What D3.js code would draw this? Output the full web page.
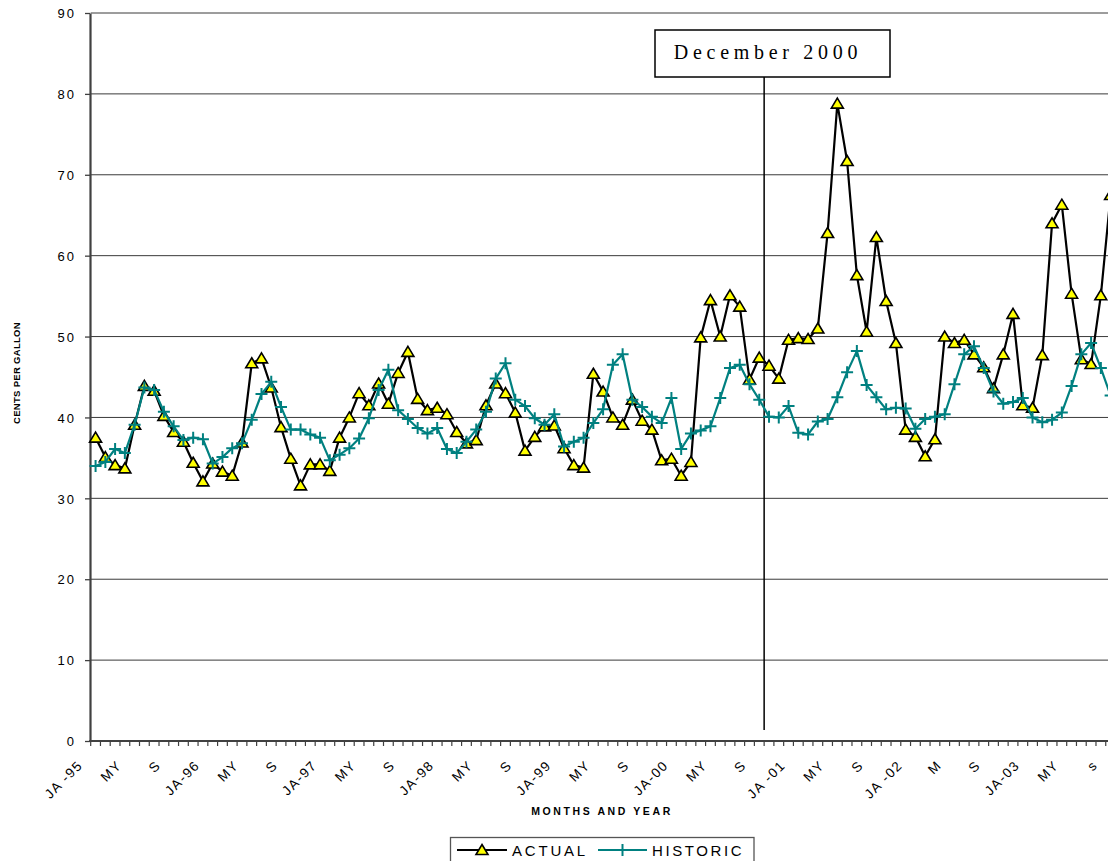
<!DOCTYPE html>
<html>
<head>
<meta charset="utf-8">
<script src="https://cdn.jsdelivr.net/npm/d3@7"></script>
<style>
  html, body { margin: 0; padding: 0; background: #fff; }
  svg { display: block; }
  text { font-family: "Liberation Sans", Arial, sans-serif; fill: #000; }
</style>
</head>
<body>
<svg id="chart" width="1108" height="861"></svg>
<script>
// Monthly categories, January 1995 through December 2003
const years = [1995, 1996, 1997, 1998, 1999, 2000, 2001, 2002, 2003];
const monthNames = ["JAN","FEB","MAR","APR","MAY","JUN","JUL","AUG","SEP","OCT","NOV","DEC"];
const months = years.flatMap(y => monthNames.map(m => m + "-" + y));

// Axis labels shown every fourth month (Jan, May, Sep)
const tickLabels = ["JA -95","MY","S","JA-96","MY","S","JA-97","MY","S",
  "JA-98","MY","S","JA-99","MY","S","JA-00","MY","S",
  "JA -01","MY","S","JA -02","M","S","JA-03","MY","s"];

// Actual price, cents per gallon (Jan 1995 - Sep 2003)
const actual = [
  37.5, 35.1, 34.1, 33.7, 39.1, 43.9, 43.3, 40.2, 38.2, 37.0, 34.4, 32.1,
  34.3, 33.3, 32.8, 36.9, 46.7, 47.3, 43.7, 38.8, 34.9, 31.6, 34.2, 34.2,
  33.4, 37.5, 40.0, 43.0, 41.5, 44.2, 41.7, 45.5, 48.1, 42.3, 40.9, 41.2,
  40.4, 38.2, 36.8, 37.2, 41.5, 44.2, 43.0, 40.6, 35.9, 37.6, 38.9, 39.0,
  36.2, 34.1, 33.8, 45.4, 43.2, 40.0, 39.1, 42.2, 39.6, 38.5, 34.7, 34.9,
  32.8, 34.5, 49.9, 54.5, 50.0, 55.1, 53.7, 44.7, 47.4, 46.4, 44.8, 49.6,
  49.8, 49.7, 51.0, 62.8, 78.8, 71.7, 57.6, 50.6, 62.3, 54.4, 49.2, 38.5,
  37.6, 35.2, 37.3, 50.0, 49.2, 49.6, 47.8, 46.2, 43.6, 47.8, 52.8, 41.5,
  41.2, 47.7, 64.0, 66.3, 55.3, 47.2, 46.6, 55.1, 67.5
];

// Historic price, cents per gallon (Jan 1995 - Sep 2003)
const historic = [
  34.0, 34.5, 36.1, 35.6, 39.1, 43.7, 43.4, 40.7, 38.9, 37.2, 37.5, 37.3,
  34.3, 35.1, 36.2, 36.8, 39.7, 42.9, 44.4, 41.3, 38.5, 38.5, 37.9, 37.5,
  34.7, 35.4, 36.2, 37.4, 39.9, 43.4, 45.9, 40.9, 39.8, 38.7, 38.0, 38.7,
  36.1, 35.6, 37.0, 38.5, 40.7, 44.8, 46.7, 42.2, 41.4, 39.9, 39.1, 40.4,
  36.4, 37.0, 37.5, 39.3, 41.0, 46.5, 47.8, 42.2, 41.3, 40.1, 39.3, 42.4,
  36.1, 38.0, 38.4, 38.9, 42.4, 46.1, 46.5, 44.1, 42.2, 40.1, 40.0, 41.4,
  38.1, 37.9, 39.5, 39.8, 42.5, 45.6, 48.2, 44.0, 42.5, 41.0, 41.2, 41.1,
  38.6, 39.8, 40.1, 40.4, 44.1, 47.8, 48.8, 46.1, 43.2, 41.7, 41.9, 42.4,
  40.0, 39.4, 39.7, 40.6, 43.9, 47.8, 49.2, 46.1, 42.7
];

const yTicks = [0, 10, 20, 30, 40, 50, 60, 70, 80, 90];
const markerText = "December 2000";
const markerMonth = "OCT-2000"; // the annotation line sits on this month's left boundary

const svg = d3.select("#chart");
const W = 1108, H = 861;
const plot = { left: 90.7, top: 13, bottom: 741 };
const step = 9.76;

const x = d3.scaleBand()
  .domain(months)
  .range([plot.left, plot.left + months.length * step])
  .paddingInner(0).paddingOuter(0);
const cx = i => x(months[i]) + x.bandwidth() / 2;

const y = d3.scaleLinear().domain([0, 90]).range([plot.bottom, plot.top]);

svg.append("rect").attr("width", W).attr("height", H).attr("fill", "#fff");

// Horizontal gridlines
svg.append("g").selectAll("line")
  .data(yTicks.filter(v => v > 0))
  .join("line")
  .attr("x1", plot.left).attr("x2", W + 10)
  .attr("y1", d => y(d)).attr("y2", d => y(d))
  .attr("stroke", "#3a3a3a").attr("stroke-width", 1);

// Y axis
const yAxis = svg.append("g")
  .attr("transform", `translate(${plot.left - 0.7},0)`)
  .call(d3.axisLeft(y).tickValues(yTicks).tickSize(5).tickSizeOuter(0).tickFormat(d3.format("d")));
yAxis.select(".domain").attr("stroke", "#404040").attr("stroke-width", 2.2);
yAxis.selectAll(".tick line").attr("stroke", "#404040").attr("stroke-width", 1.3);
yAxis.selectAll(".tick text")
  .attr("x", -14).attr("dy", "0.36em")
  .style("font-size", "13px").style("letter-spacing", "2px")
  .style("font-family", "'Liberation Sans', Arial, sans-serif").attr("fill", "#000");

// X axis: ticks on each month boundary
const xg = svg.append("g");
xg.append("line")
  .attr("x1", plot.left - 1.5).attr("x2", W + 10)
  .attr("y1", plot.bottom).attr("y2", plot.bottom)
  .attr("stroke", "#404040").attr("stroke-width", 1.8);
xg.selectAll("line.tk")
  .data(months)
  .join("line").attr("class", "tk")
  .attr("x1", d => x(d)).attr("x2", d => x(d))
  .attr("y1", plot.bottom).attr("y2", plot.bottom + 5)
  .attr("stroke", "#404040").attr("stroke-width", 1.2);

xg.selectAll("text.tl")
  .data(tickLabels)
  .join("text").attr("class", "tl")
  .attr("text-anchor", "end")
  .attr("transform", (d, i) => `translate(${cx(i * 4) - 12},${plot.bottom + 25}) rotate(-45)`)
  .style("font-size", "13.5px").style("letter-spacing", "1.5px")
  .text(d => d);

// Axis titles
svg.append("text")
  .attr("x", 602).attr("y", 815)
  .attr("text-anchor", "middle")
  .style("font-size", "10.5px").style("font-weight", "bold").style("letter-spacing", "2.6px")
  .text("MONTHS AND YEAR");

svg.append("text")
  .attr("transform", "translate(20,373) rotate(-90)")
  .attr("text-anchor", "middle")
  .style("font-size", "9.5px").style("font-weight", "bold").style("letter-spacing", "0.3px")
  .text("CENTS PER GALLON");

// Annotation line and its caption box
const mx = x(markerMonth);
svg.append("line")
  .attr("x1", mx).attr("x2", mx)
  .attr("y1", 77).attr("y2", 730)
  .attr("stroke", "#000").attr("stroke-width", 1.5);
svg.append("rect")
  .attr("x", 655).attr("y", 30).attr("width", 235).attr("height", 47)
  .attr("fill", "#fff").attr("stroke", "#000").attr("stroke-width", 1.5);
svg.append("text")
  .attr("x", 768).attr("y", 59)
  .attr("text-anchor", "middle")
  .style("font-family", "'Liberation Serif', 'Times New Roman', serif")
  .style("font-size", "20px").style("letter-spacing", "4.7px")
  .text(markerText);

// Series
const line = d3.line().x((d, i) => cx(i)).y(d => y(d));
const triPath = "M0,-5.5L6,4.5L-6,4.5Z";
const plusPath = "M-6,0H6M0,-6V6";

const gA = svg.append("g");
gA.append("path").datum(actual)
  .attr("d", line).attr("fill", "none")
  .attr("stroke", "#000").attr("stroke-width", 2.2).attr("stroke-linejoin", "round");
gA.selectAll("path.m").data(actual).join("path").attr("class", "m")
  .attr("d", triPath)
  .attr("transform", (d, i) => `translate(${cx(i)},${y(d)})`)
  .attr("fill", "#ffff00").attr("stroke", "#000").attr("stroke-width", 1.6)
  .attr("stroke-linejoin", "miter");

const gH = svg.append("g");
gH.append("path").datum(historic)
  .attr("d", line).attr("fill", "none")
  .attr("stroke", "#008080").attr("stroke-width", 2.2).attr("stroke-linejoin", "round");
gH.selectAll("path.m").data(historic).join("path").attr("class", "m")
  .attr("d", plusPath)
  .attr("transform", (d, i) => `translate(${cx(i)},${y(d)})`)
  .attr("fill", "none").attr("stroke", "#008080").attr("stroke-width", 2);

// Legend
const lg = svg.append("g");
lg.append("rect")
  .attr("x", 450.5).attr("y", 837.5).attr("width", 303.5).attr("height", 40)
  .attr("fill", "#fff").attr("stroke", "#555").attr("stroke-width", 1.3);
lg.append("line").attr("x1", 457).attr("x2", 507).attr("y1", 850).attr("y2", 850)
  .attr("stroke", "#000").attr("stroke-width", 2.2);
lg.append("path").attr("d", triPath).attr("transform", "translate(482,850)")
  .attr("fill", "#ffff00").attr("stroke", "#000").attr("stroke-width", 1.6);
lg.append("text").attr("x", 512).attr("y", 856)
  .style("font-size", "15px").style("letter-spacing", "2.8px").text("ACTUAL");
lg.append("line").attr("x1", 598).attr("x2", 647).attr("y1", 850).attr("y2", 850)
  .attr("stroke", "#008080").attr("stroke-width", 2.2);
lg.append("path").attr("d", plusPath).attr("transform", "translate(622.5,850)")
  .attr("fill", "none").attr("stroke", "#008080").attr("stroke-width", 2);
lg.append("text").attr("x", 652).attr("y", 856)
  .style("font-size", "15px").style("letter-spacing", "2.6px").text("HISTORIC");
</script>
</body>
</html>
